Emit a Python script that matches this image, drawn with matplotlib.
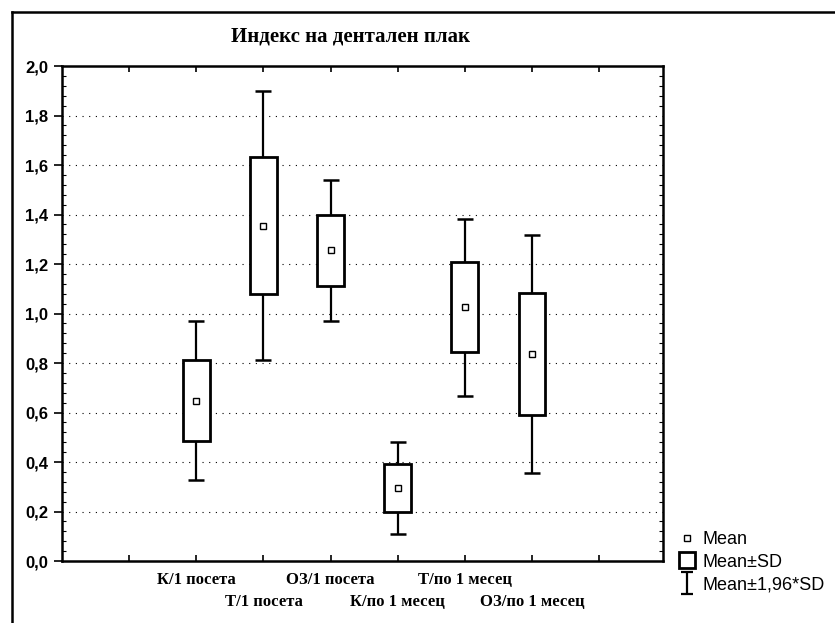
import numpy as np
import matplotlib.pyplot as plt
from matplotlib.lines import Line2D
from matplotlib.path import Path

# Данни: средни стойности и стандартни отклонения
groups = ['К/1 посета', 'Т/1 посета', 'ОЗ/1 посета',
          'К/по 1 месец', 'Т/по 1 месец', 'ОЗ/по 1 месец']
means = [0.648, 1.355, 1.255, 0.295, 1.025, 0.836]
sds = [0.164, 0.277, 0.145, 0.095, 0.182, 0.245]
yticks = [0.0, 0.2, 0.4, 0.6, 0.8, 1.0, 1.2, 1.4, 1.6, 1.8, 2.0]
ytick_labels = ['0,0', '0,2', '0,4', '0,6', '0,8', '1,0', '1,2', '1,4', '1,6', '1,8', '2,0']

means = np.array(means)
sds = np.array(sds)
x = np.arange(2, 2 + len(groups))

fig = plt.figure(figsize=(8.35, 6.23), dpi=100)
ax = fig.add_axes([0.0743, 0.0995, 0.7197, 0.7945])

# whiskers (Mean ± 1,96*SD)
ax.errorbar(x, means, yerr=1.96 * sds, fmt='none', ecolor='black',
            elinewidth=1.6, capsize=5.5, capthick=1.8, zorder=2)
# boxes (Mean ± SD)
ax.bar(x, 2 * sds, bottom=means - sds, width=0.4, color='white',
       edgecolor='black', linewidth=2, zorder=3)
# mean
ax.plot(x, means, 's', mfc='white', mec='black', ms=5, mew=1, zorder=4)

ax.set_xlim(0, 8.95)
ax.set_ylim(0, 2.0)

# staggered category labels: first row on major ticks, second row on minor ticks
xfont = dict(fontfamily='Liberation Serif', fontweight='bold', fontsize=12)
ax.set_xticks([1] + list(x[0::2]) + [8])
ax.set_xticklabels([''] + groups[0::2] + [''], **xfont)
ax.set_xticks(x[1::2], minor=True)
ax.set_xticklabels(groups[1::2], minor=True, **xfont)
ax.tick_params(axis='x', which='major', direction='in', length=4, width=1.2, top=True, pad=8)
ax.tick_params(axis='x', which='minor', direction='in', length=4, width=1.2, top=True, pad=24)

ax.set_yticks(yticks)
ax.set_yticklabels(ytick_labels, fontfamily='Liberation Sans', fontweight='bold', fontsize=12)
ax.tick_params(axis='y', direction='out', length=6, width=1.2, pad=4)
ax.set_yticks(np.arange(0, 2.001, 0.04), minor=True)
ax.tick_params(axis='y', which='minor', direction='in', length=3, width=0.8, right=True)

for yv in yticks[1:-1]:
    ax.axhline(yv, color='black', linestyle=(0, (1, 5)), linewidth=0.8, zorder=1)

for s in ax.spines.values():
    s.set_linewidth(1.8)

ax.set_title('Индекс на дентален плак', fontfamily='Liberation Serif',
             fontweight='bold', fontsize=15, pad=18, x=0.48)

# frame lines of the scanned figure
fig.add_artist(Line2D([0.0144, 0.0144], [0, 0.981], color='black', lw=1.8,
                      transform=fig.transFigure))
fig.add_artist(Line2D([0.0144, 1.0], [0.981, 0.981], color='black', lw=1.8,
                      transform=fig.transFigure))

# legend
ibeam = Path([(-0.5, -1), (0.5, -1), (0, -1), (0, 1), (-0.5, 1), (0.5, 1)],
             [Path.MOVETO, Path.LINETO, Path.MOVETO, Path.LINETO, Path.MOVETO, Path.LINETO])
handles = [
    Line2D([], [], marker='s', ls='none', mfc='white', mec='black', ms=5, mew=1),
    Line2D([], [], marker='s', ls='none', mfc='white', mec='black', ms=12, mew=2),
    Line2D([], [], marker=ibeam, ls='none', color='black', ms=16, mew=1.6),
]
fig.legend(handles, ['Mean', 'Mean±SD', 'Mean±1,96*SD'], loc='lower left',
           bbox_to_anchor=(0.792, 0.022), frameon=False, handlelength=1.0,
           handletextpad=0.4, labelspacing=0.3,
           prop={'family': 'Liberation Sans', 'size': 13})

fig.savefig('out.png', dpi=100)
